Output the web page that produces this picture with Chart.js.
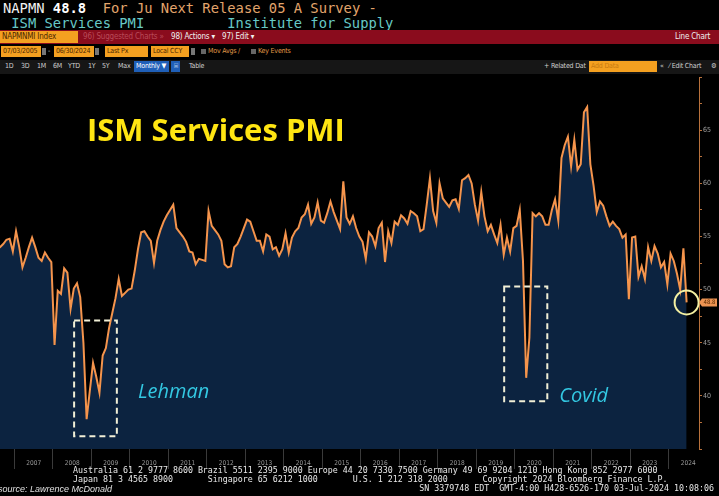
<!DOCTYPE html>
<html>
<head>
<meta charset="utf-8">
<script src="https://cdn.jsdelivr.net/npm/chart.js@4.4.0/dist/chart.umd.min.js"></script>
<style>
  body { margin: 0; background: #000; width: 719px; height: 496px; overflow: hidden; position: relative; }
  .a { position: absolute; white-space: pre; }
  .mono { font-family: 'DejaVu Sans Mono', 'Liberation Mono', monospace; }
  .nar { font-family: 'DejaVu Sans Condensed', 'Liberation Sans', sans-serif; font-size: 7px; line-height: 11px; letter-spacing: -0.2px; }
  .box { background: #f4a020; color: #4a2600; padding-left: 2px; height: 11px; overflow: hidden; }
  .tb { color: #cfcfcf; top: 61px; }
  #chart { position: absolute; left: 0; top: 72px; }
</style>
</head>
<body>

<!-- header lines -->
<div class="a mono" style="left:3px;top:1px;font-size:13.8px;line-height:14px;"><span style="color:#f2f2f2">NAPMN </span><b style="color:#fff">48.8</b><span style="color:#e3a56c">  For Ju Next Release 05 A Survey -</span></div>
<div class="a mono" style="left:3px;top:16px;font-size:13.8px;line-height:14px;color:#67c9c6"> ISM Services PMI          Institute for Supply</div>

<!-- red bar -->
<div class="a" style="left:0;top:30px;width:719px;height:14px;background:#8a0c1d;"></div>
<div class="a nar box" style="left:0;top:31px;width:76px;height:12px;line-height:12px;font-size:8px;">NAPMNMI Index</div>
<div class="a nar" style="left:83px;top:31px;color:#b84a58;line-height:12px;font-size:8px;">96) Suggested Charts »</div>
<div class="a nar" style="left:171px;top:31px;color:#f0f0f0;line-height:12px;font-size:8px;">98) Actions ▾</div>
<div class="a nar" style="left:222px;top:31px;color:#f0f0f0;line-height:12px;font-size:8px;">97) Edit ▾</div>
<div class="a nar" style="left:675px;top:31px;color:#f0f0f0;line-height:12px;font-size:8px;">Line Chart</div>

<!-- date row -->
<div class="a nar box" style="left:1px;top:46px;width:38px;">07/03/2005</div>
<div class="a" style="left:42px;top:48px;width:4px;height:7px;background:#777;"></div>
<div class="a nar" style="left:48px;top:46px;color:#ddd;">-</div>
<div class="a nar box" style="left:54px;top:46px;width:38px;">06/30/2024</div>
<div class="a" style="left:95px;top:48px;width:4px;height:7px;background:#777;"></div>
<div class="a nar box" style="left:105px;top:46px;width:41px;">Last Px</div>
<div class="a nar box" style="left:151px;top:46px;width:36px;">Local CCY</div>
<div class="a" style="left:191px;top:48px;width:4px;height:7px;background:#777;"></div>
<div class="a" style="left:201px;top:49px;width:5px;height:5px;background:#666;"></div>
<div class="a nar" style="left:208px;top:46px;color:#e09a48;">Mov Avgs /</div>
<div class="a" style="left:251px;top:49px;width:5px;height:5px;background:#666;"></div>
<div class="a nar" style="left:258px;top:46px;color:#e09a48;">Key Events</div>

<!-- toolbar row -->
<div class="a" style="left:0;top:60px;width:719px;height:14px;background:#161616;"></div>
<div class="a nar tb" style="left:5px;">1D</div>
<div class="a nar tb" style="left:21px;">3D</div>
<div class="a nar tb" style="left:37px;">1M</div>
<div class="a nar tb" style="left:53px;">6M</div>
<div class="a nar tb" style="left:68px;">YTD</div>
<div class="a nar tb" style="left:88px;">1Y</div>
<div class="a nar tb" style="left:102px;">5Y</div>
<div class="a nar tb" style="left:118px;">Max</div>
<div class="a nar" style="left:134px;top:61px;width:33px;padding-left:2px;background:#1f5fb8;color:#fff;">Monthly ▼</div>
<div class="a nar" style="left:171px;top:61px;width:9px;background:#1f5fb8;color:#cde;text-align:center;">⌸</div>
<div class="a nar tb" style="left:189px;">Table</div>
<div class="a nar tb" style="left:544px;">+ Related Dat</div>
<div class="a nar box" style="left:589px;top:61px;width:66px;color:#c87a10;">Add Data</div>
<div class="a nar tb" style="left:660px;">«</div>
<div class="a nar tb" style="left:669px;">⁄ Edit Chart</div>
<div class="a nar tb" style="left:711px;">⚙</div>

<canvas id="chart" width="719" height="397"></canvas>

<!-- footer -->
<div class="a mono" style="left:73px;top:466px;font-size:8.3px;line-height:9px;color:#e8e8e8;">Australia 61 2 9777 8600 Brazil 5511 2395 9000 Europe 44 20 7330 7500 Germany 49 69 9204 1210 Hong Kong 852 2977 6000</div>
<div class="a mono" style="left:73px;top:475px;font-size:8.3px;line-height:9px;color:#e8e8e8;">Japan 81 3 4565 8900       Singapore 65 6212 1000       U.S. 1 212 318 2000       Copyright 2024 Bloomberg Finance L.P.</div>
<div class="a mono" style="right:5px;top:484px;font-size:8.3px;line-height:9px;color:#e8e8e8;">SN 3379748 EDT  GMT-4:00 H428-6526-170 03-Jul-2024 10:08:06</div>
<div class="a" style="left:-2px;top:484px;font-family:'Liberation Sans',Arial,sans-serif;font-style:italic;font-size:9px;line-height:10px;color:#e0e0e0;">source: Lawrence McDonald</div>

<script>
// monthly ISM Services PMI, Jul 2006 .. Jun 2024
const startYear = 2006;
const startMonth = 7;
const pmiValues = [
  54.0, 54.0, 54.3, 54.7, 54.8, 53.6,                               // 2006 (Jul-Dec)
  55.5, 54.0, 52.1, 53.0, 54.0, 54.9, 54.0, 53.0, 52.7, 53.5, 53.0, 52.6, // 2007
  44.8, 49.9, 49.6, 52.0, 51.6, 48.2, 50.1, 50.6, 49.3, 45.0, 37.8, 40.5, // 2008
  43.1, 41.8, 40.3, 43.8, 44.5, 46.4, 47.8, 49.2, 51.0, 49.4, 49.7, 50.0, // 2009
  50.1, 51.8, 53.8, 55.4, 55.5, 55.0, 54.6, 52.5, 54.6, 55.6, 56.4, 57.0, // 2010
  57.5, 58.0, 55.8, 55.4, 55.0, 54.5, 53.6, 53.5, 52.4, 52.9, 52.8, 52.7, // 2011
  57.4, 56.0, 55.6, 55.2, 54.6, 52.4, 52.1, 52.2, 54.0, 54.3, 55.0, 55.8, // 2012
  56.6, 56.4, 55.5, 54.6, 54.6, 53.6, 55.2, 55.0, 53.8, 54.0, 53.2, 53.8, // 2013
  55.3, 53.5, 54.9, 55.5, 55.8, 56.8, 57.1, 58.0, 56.2, 56.8, 58.2, 56.5, // 2014
  56.3, 57.2, 58.3, 57.3, 56.5, 55.7, 60.2, 56.8, 56.2, 56.9, 55.8, 55.0, // 2015
  54.5, 52.9, 55.4, 55.0, 54.1, 55.8, 56.3, 52.6, 55.5, 54.4, 56.4, 56.1, // 2016
  57.0, 56.7, 56.2, 57.4, 57.2, 56.9, 55.5, 55.7, 58.0, 60.5, 57.4, 56.3, // 2017
  60.0, 58.6, 58.2, 57.8, 58.4, 58.5, 57.6, 60.3, 60.5, 60.8, 60.0, 58.0, // 2018
  56.5, 59.2, 56.9, 55.5, 56.1, 55.2, 54.4, 56.1, 53.3, 54.9, 53.6, 55.8, // 2019
  56.0, 57.5, 52.7, 41.7, 45.5, 57.2, 56.9, 57.2, 56.9, 56.1, 56.1, 57.5, // 2020
  58.5, 56.5, 62.4, 63.6, 64.4, 61.6, 64.1, 61.3, 61.8, 66.7, 67.2, 61.8, // 2021
  59.8, 57.3, 58.3, 57.9, 56.9, 56.0, 56.4, 56.0, 55.7, 54.9, 55.2, 49.1, // 2022
  54.9, 55.0, 51.2, 52.2, 51.0, 54.0, 52.7, 54.1, 53.4, 52.1, 52.6, 50.5, // 2023
  53.4, 52.7, 51.5, 50.0, 53.9, 48.8                                // 2024 (Jan-Jun)
];
const yearLabels = [2007, 2008, 2009, 2010, 2011, 2012, 2013, 2014, 2015,
                    2016, 2017, 2018, 2019, 2020, 2021, 2022, 2023, 2024];
const lastValue = 48.8;

// annotation boxes (in data units)
const events = [
  { name: 'Lehman', from: 2008.55, to: 2009.66, top: 47.1, bottom: 36.2, labelX: 2010.21, labelY: 39.8 },
  { name: 'Covid',  from: 2019.72, to: 2020.84, top: 50.3, bottom: 39.5, labelX: 2021.15, labelY: 39.4 }
];

// month i placed at mid-month
const points = pmiValues.map((v, i) => ({ x: startYear + (startMonth - 1 + i + 0.5) / 12, y: v }));

const marks = {
  id: 'marks',
  afterDatasetsDraw(chart) {
    const { ctx, scales: { x, y } } = chart;
    ctx.save();
    // title
    ctx.fillStyle = '#ffe512';
    ctx.font = "bold 31px 'Open Sans', sans-serif";
    ctx.textBaseline = 'alphabetic';
    ctx.fillText('ISM Services PMI', 87, 69);

    // dashed boxes + labels
    events.forEach(e => {
      const x0 = x.getPixelForValue(e.from), x1 = x.getPixelForValue(e.to);
      const y0 = y.getPixelForValue(e.top), y1 = y.getPixelForValue(e.bottom);
      ctx.setLineDash([6, 4]);
      ctx.lineWidth = 2;
      ctx.strokeStyle = '#f1efd6';
      ctx.strokeRect(x0, y0, x1 - x0, y1 - y0);
      ctx.setLineDash([]);
      ctx.fillStyle = '#33c8e2';
      ctx.font = "italic 20px 'Open Sans', sans-serif";
      ctx.fillText(e.name, x.getPixelForValue(e.labelX), y.getPixelForValue(e.labelY));
    });

    // circle on last point
    const lp = points[points.length - 1];
    ctx.beginPath();
    ctx.arc(x.getPixelForValue(lp.x), y.getPixelForValue(lp.y), 12, 0, Math.PI * 2);
    ctx.lineWidth = 2;
    ctx.strokeStyle = '#f4f0a2';
    ctx.stroke();
    ctx.restore();
  },
  afterDraw(chart) {
    const { ctx, scales: { y } } = chart;
    const yc = y.getPixelForValue(lastValue);
    const xl = y.left;
    ctx.save();
    ctx.beginPath();
    ctx.moveTo(xl, yc);
    ctx.lineTo(xl + 3, yc - 4);
    ctx.lineTo(xl + 18, yc - 4);
    ctx.lineTo(xl + 18, yc + 4);
    ctx.lineTo(xl + 3, yc + 4);
    ctx.closePath();
    ctx.fillStyle = '#ec9352';
    ctx.fill();
    ctx.fillStyle = '#5a2a00';
    ctx.font = "6px 'DejaVu Sans Condensed', sans-serif";
    ctx.textAlign = 'center';
    ctx.textBaseline = 'middle';
    ctx.fillText(lastValue.toFixed(1), xl + 10.5, yc + 0.5);
    ctx.restore();
  }
};

const ctx = document.getElementById('chart').getContext('2d');
const chart = new Chart(ctx, {
  type: 'line',
  data: {
    datasets: [{
      data: points,
      borderColor: '#f5944c',
      borderWidth: 2,
      backgroundColor: '#0c2340',
      fill: 'start',
      pointRadius: 0,
      tension: 0
    }]
  },
  options: {
    responsive: false,
    animation: false,
    devicePixelRatio: 1,
    layout: { padding: 0 },
    plugins: { legend: { display: false }, tooltip: { enabled: false } },
    scales: {
      x: {
        type: 'linear',
        min: 2006.625,
        max: 2024.78,
        afterBuildTicks: axis => { axis.ticks = yearLabels.map(v => ({ value: v })); },
        afterFit: s => { s.height = 20; },
        ticks: {
          callback: v => String(v),
          autoSkip: false,
          maxRotation: 0,
          labelOffset: 19.25,
          padding: -10,
          color: '#9a9a9a',
          font: { family: "'DejaVu Sans Condensed', 'DejaVu Sans', sans-serif", size: 6.5 }
        },
        grid: { drawOnChartArea: false, drawTicks: true, tickLength: 20, color: '#3a3a3a' },
        border: { display: false }
      },
      y: {
        position: 'right',
        min: 35,
        max: 70,
        afterFit: s => { s.width = 20; },
        ticks: {
          stepSize: 2.5,
          autoSkip: false,
          padding: 1,
          callback: v => (v % 5 === 0 && v > 35 && v < 70) ? String(v) : '',
          color: '#a0a0a0',
          font: { family: "'DejaVu Sans Condensed', 'DejaVu Sans', sans-serif", size: 7 }
        },
        grid: { drawOnChartArea: false, drawTicks: true, tickLength: 3, color: '#b8713c' },
        border: { display: true, color: '#b8713c', width: 1 }
      }
    }
  },
  plugins: [marks]
});
</script>
</body>
</html>
